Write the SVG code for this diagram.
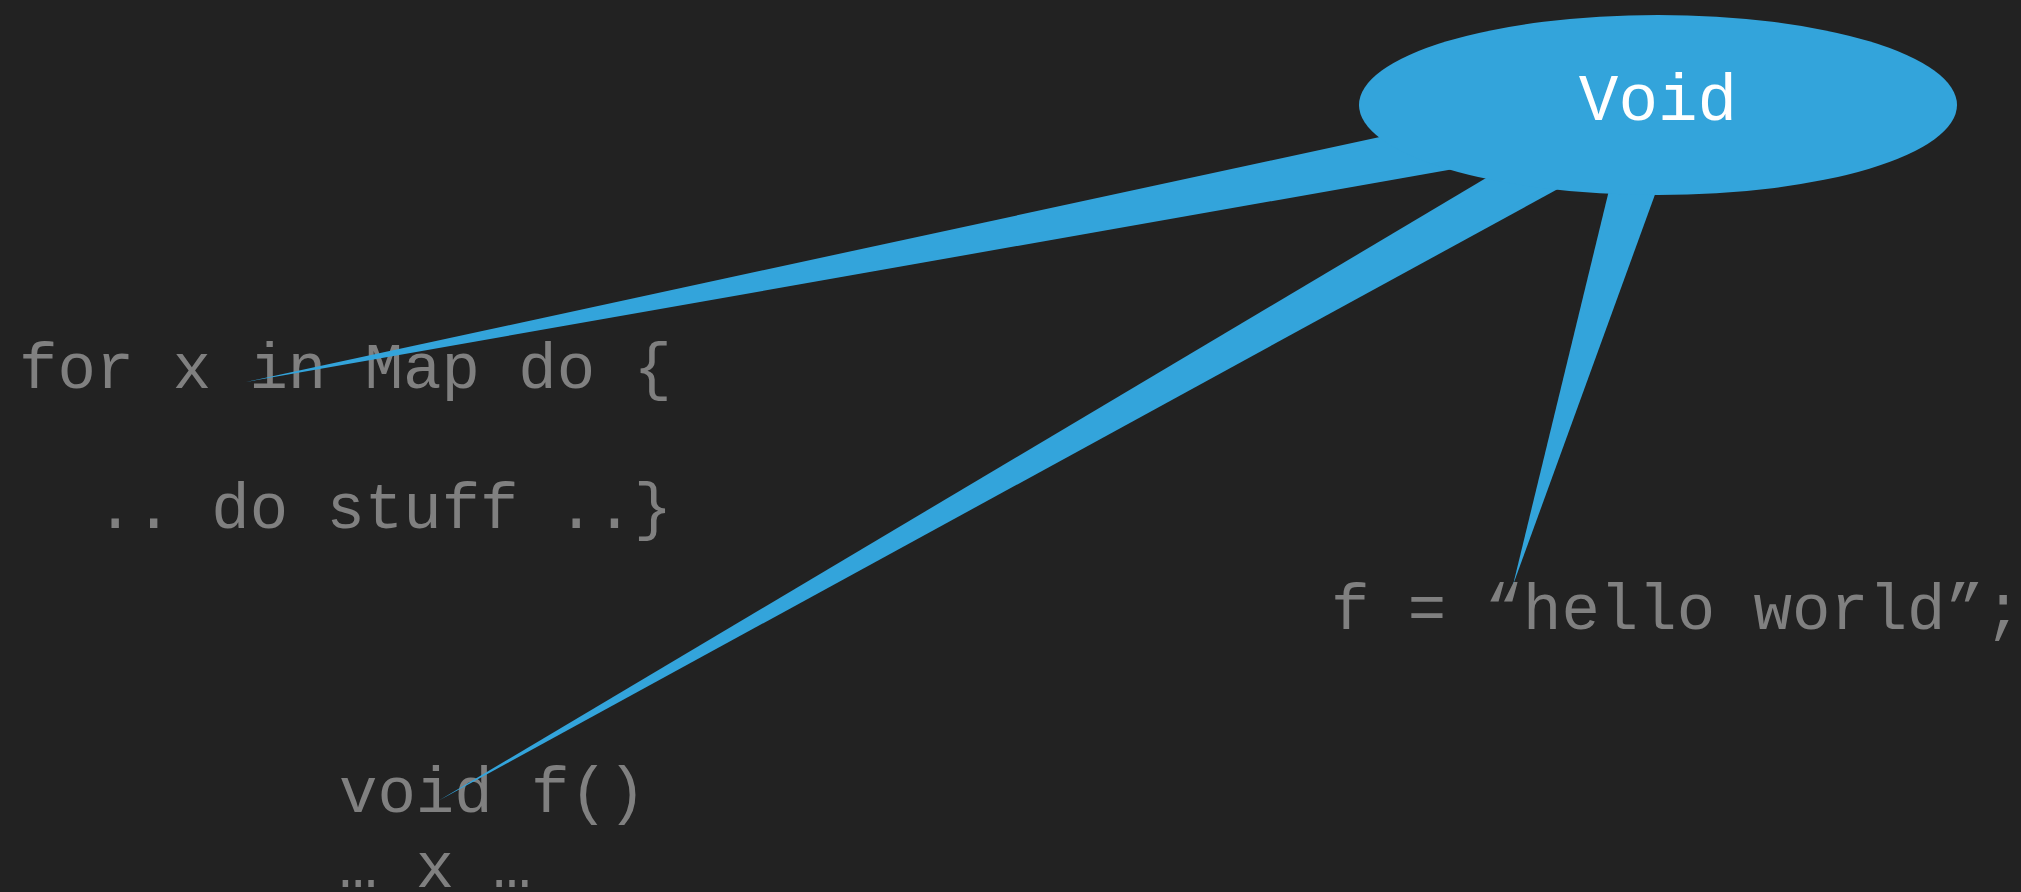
<svg xmlns="http://www.w3.org/2000/svg" width="2021" height="892" viewBox="0 0 2021 892">
<style>
.code{font-family:"Liberation Mono","Courier New",monospace;font-size:64px;fill:#808080;}
.lbl{font-family:"Liberation Mono","Courier New",monospace;font-size:66px;fill:#ffffff;text-anchor:middle;}
.wedge{fill:#33a4db;stroke:none;}
.bubble{fill:#33a4db;}
</style>
<rect x="0" y="0" width="2021" height="892" fill="#222222"/>
<g id="node-for"><text class="code" x="19" y="388">for x in Map do {</text></g>
<g id="node-stuff"><text class="code" x="96" y="528">.. do stuff ..}</text></g>
<g id="node-voidf"><text class="code" x="339" y="812">void f()</text></g>
<g id="node-x"><text class="code" x="339" y="887">… x …</text></g>
<g id="node-hello"><text class="code" x="1331" y="629">f = “hello world”;</text></g>
<g id="connectors">
<polygon class="wedge" points="246,382 1500,111 1550,152"/>
<polygon class="wedge" points="438,801 1540,146 1600,166"/>
<polygon class="wedge" points="1513,585 1620,145 1673,145"/>
</g>
<g id="node-void">
<ellipse class="bubble" cx="1658" cy="105" rx="299" ry="90"/>
<text class="lbl" x="1658" y="120">Void</text>
</g>
</svg>
